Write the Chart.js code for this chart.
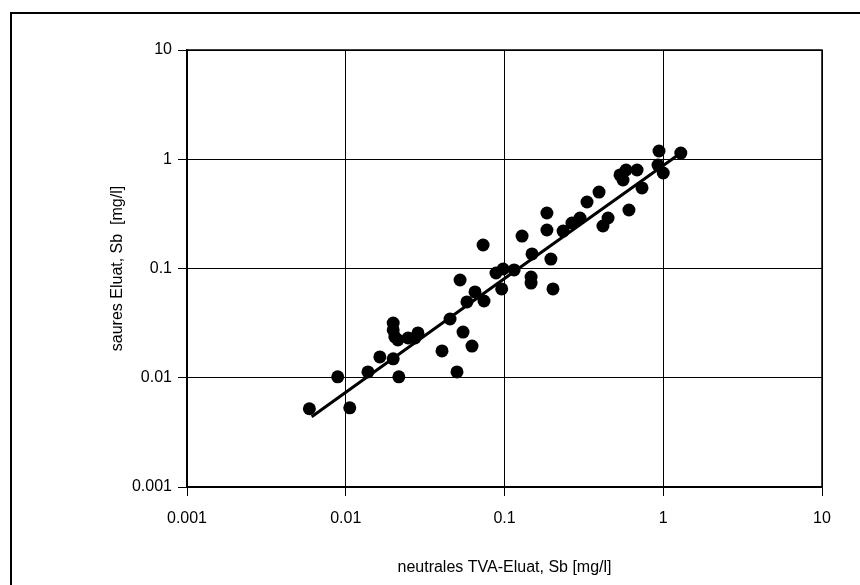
<!DOCTYPE html>
<html>
<head>
<meta charset="utf-8">
<script src="https://cdn.jsdelivr.net/npm/chart.js@4.4.1/dist/chart.umd.min.js"></script>
<style>
  html, body { margin: 0; padding: 0; background: #fff; }
  #wrap { width: 860px; height: 585px; }
</style>
</head>
<body>
<div id="wrap"><canvas id="chart" width="860" height="585"></canvas></div>
<script>
const neutralSb = [
  0.0059, 0.0089, 0.0106, 0.0138, 0.0164, 0.0199, 0.0199, 0.0199, 0.0204, 0.0213,
  0.0247, 0.0273, 0.0285, 0.0216, 0.0404, 0.0454, 0.0502, 0.0548, 0.0624, 0.0525,
  0.058, 0.0652, 0.0743, 0.0733, 0.0884, 0.098, 0.115, 0.096, 0.129, 0.149,
  0.147, 0.147, 0.185, 0.185, 0.196, 0.202, 0.234, 0.266, 0.299, 0.331,
  0.394, 0.417, 0.449, 0.534, 0.583, 0.684, 0.558, 0.608, 0.735, 0.94,
  0.927, 1.0, 1.29
];
const saurSb = [
  0.0052, 0.0102, 0.0053, 0.0113, 0.0155, 0.0149, 0.0317, 0.0274, 0.0236, 0.0222,
  0.0231, 0.0231, 0.0257, 0.0102, 0.0176, 0.0345, 0.0113, 0.0262, 0.0195, 0.0785,
  0.0494, 0.061, 0.0504, 0.164, 0.091, 0.099, 0.097, 0.065, 0.198, 0.136,
  0.0836, 0.0736, 0.322, 0.225, 0.122, 0.065, 0.22, 0.261, 0.29, 0.406,
  0.501, 0.245, 0.29, 0.718, 0.797, 0.797, 0.646, 0.343, 0.546, 1.19,
  0.885, 0.748, 1.14
];

const fitX = [0.0061, 0.1, 1.29];
const fitY = [0.0044, 0.081, 1.14];

const decadeTicks = [0.001, 0.01, 0.1, 1, 10];
const tickLabels = ['0.001', '0.01', '0.1', '1', '10'];

const xTitle = 'neutrales TVA-Eluat, Sb [mg/l]';
const yTitle = 'saures Eluat, Sb  [mg/l]';

const points = neutralSb.map((x, i) => ({ x: x, y: saurSb[i] }));
const fitLine = fitX.map((x, i) => ({ x: x, y: fitY[i] }));

// Rahmen um das ganze Diagramm
const frame = {
  id: 'frame',
  beforeDraw(chart) {
    const ctx = chart.ctx;
    ctx.save();
    ctx.fillStyle = '#fff';
    ctx.fillRect(0, 0, chart.width, chart.height);
    ctx.strokeStyle = '#000';
    ctx.lineWidth = 2;
    ctx.strokeRect(11, 13, 900, 700);
    ctx.restore();
  },
  afterDatasetsDraw(chart) {
    const { ctx, chartArea: a } = chart;
    ctx.save();
    ctx.strokeStyle = '#000';
    ctx.lineWidth = 1.5;
    ctx.strokeRect(a.left, a.top, a.right - a.left, a.bottom - a.top);
    ctx.restore();
  }
};

function fixTicks(scale) {
  scale.ticks = decadeTicks.map(v => ({ value: v }));
}

const font = { family: 'Liberation Sans, Arial, sans-serif', size: 16 };

new Chart(document.getElementById('chart'), {
  type: 'scatter',
  data: {
    datasets: [
      {
        label: 'Messwerte',
        data: points,
        backgroundColor: '#000',
        borderColor: '#000',
        pointRadius: 6.5,
        pointHoverRadius: 6.5,
        borderWidth: 0
      },
      {
        label: 'Regression',
        data: fitLine,
        showLine: true,
        borderColor: '#000',
        borderWidth: 3,
        pointRadius: 0,
        fill: false
      }
    ]
  },
  options: {
    responsive: false,
    animation: false,
    layout: { padding: { left: 0, top: 50, right: 38, bottom: 0 } },
    plugins: { legend: { display: false }, tooltip: { enabled: false } },
    scales: {
      x: {
        type: 'logarithmic',
        min: 0.001,
        max: 10,
        afterBuildTicks: fixTicks,
        afterFit: s => { s.height = 98; },
        border: { color: '#000', width: 1.5 },
        grid: { color: '#000', lineWidth: 1, tickLength: 9, drawTicks: true },
        ticks: {
          color: '#000',
          font: font,
          padding: 13,
          maxRotation: 0,
          autoSkip: false,
          callback: v => tickLabels[decadeTicks.indexOf(v)]
        },
        title: { display: true, text: xTitle, color: '#000', font: font, padding: { top: 0, bottom: 8 } }
      },
      y: {
        type: 'logarithmic',
        min: 0.001,
        max: 10,
        afterBuildTicks: fixTicks,
        afterFit: s => { s.width = 187; },
        border: { color: '#000', width: 1.5 },
        grid: { color: '#000', lineWidth: 1, tickLength: 9, drawTicks: true },
        ticks: {
          color: '#000',
          font: font,
          padding: 6,
          autoSkip: false,
          callback: v => tickLabels[decadeTicks.indexOf(v)]
        },
        title: { display: true, text: yTitle, color: '#000', font: font, padding: { top: 108, bottom: 0 } }
      }
    }
  },
  plugins: [frame]
});
</script>
</body>
</html>
